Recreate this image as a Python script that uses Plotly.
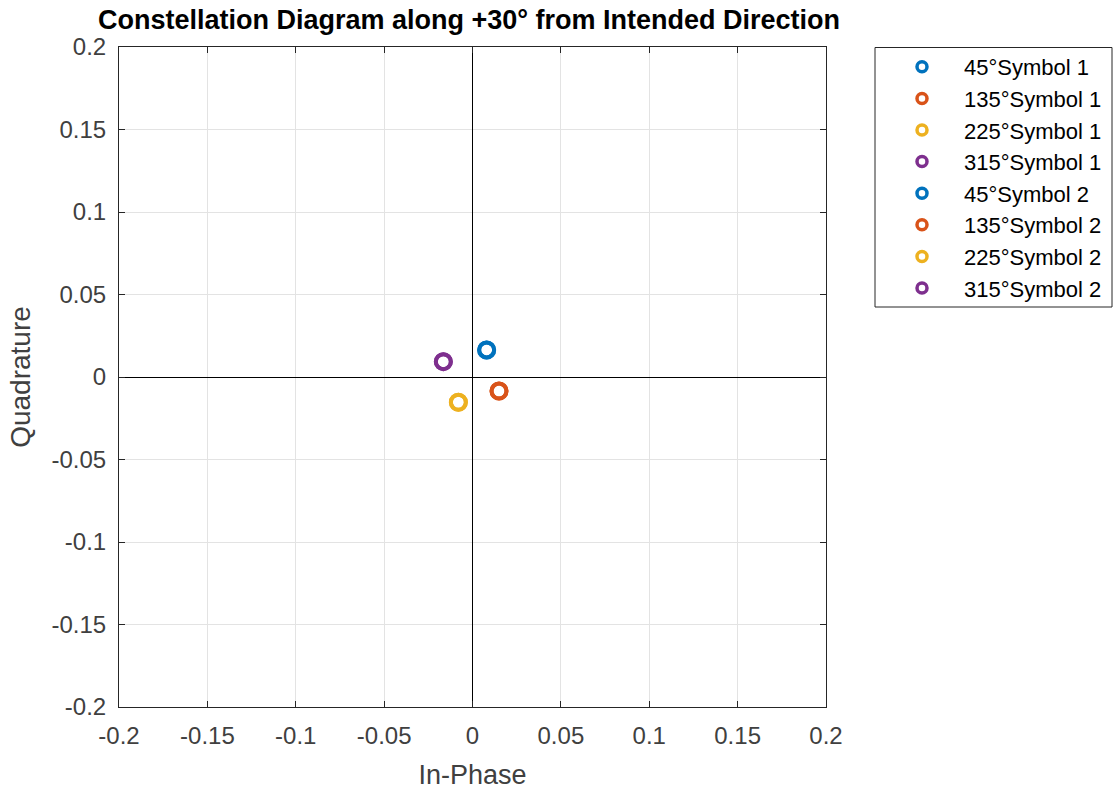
import plotly.graph_objects as go

# Received constellation points (in-phase, quadrature) for each transmitted phase
phases = ["45°", "135°", "225°", "315°"]
colors = ["#0072BD", "#D95319", "#EDB120", "#7E2F8E"]
sym1_i = [0.008, 0.015, -0.008, -0.0165]
sym1_q = [0.0164, -0.0085, -0.0153, 0.0093]
sym2_i = [0.008, 0.015, -0.008, -0.0165]
sym2_q = [0.0164, -0.0085, -0.0153, 0.0093]

tick_vals = [-0.2, -0.15, -0.1, -0.05, 0, 0.05, 0.1, 0.15, 0.2]
tick_text = ["-0.2", "-0.15", "-0.1", "-0.05", "0", "0.05", "0.1", "0.15", "0.2"]

FONT = "Liberation Sans, Arial, Helvetica, sans-serif"
AX_COLOR = "#262626"
TXT_COLOR = "#404040"

fig = go.Figure()

series = [("Symbol 1", sym1_i, sym1_q), ("Symbol 2", sym2_i, sym2_q)]
k = 0
for label, xi, yq in series:
    for p, c, x, y in zip(phases, colors, xi, yq):
        name = f"{p}{label}"
        # plotted point
        fig.add_trace(go.Scatter(
            x=[x], y=[y], mode="markers", name=name,
            legendgroup=f"g{k}", showlegend=False,
            marker=dict(symbol="circle-open", size=15, color=c,
                        line=dict(width=4, color=c)),
        ))
        # legend key with a smaller ring
        fig.add_trace(go.Scatter(
            x=[None], y=[None], mode="markers", name=name,
            legendgroup=f"g{k}", showlegend=True, hoverinfo="skip",
            marker=dict(symbol="circle-open", size=10, color=c,
                        line=dict(width=3.5, color=c)),
        ))
        k += 1

W, H = 1114, 790
L, R, T, B = 119, 826, 47, 707
pw, ph = R - L, B - T

def px_x(p):
    return (p - L) / pw

def px_y(p):
    return (B - p) / ph

axis_common = dict(
    range=[-0.2, 0.2], tickmode="array", tickvals=tick_vals, ticktext=tick_text,
    showgrid=True, gridcolor="#e3e3e3", gridwidth=1,
    zeroline=True, zerolinecolor="#000000", zerolinewidth=1,
    showline=True, linecolor=AX_COLOR, linewidth=1, mirror="ticks",
    ticks="inside", ticklen=6, tickcolor=AX_COLOR,
    tickfont=dict(family=FONT, size=24, color=TXT_COLOR),
    fixedrange=True, automargin=False,
)

fig.update_layout(
    width=W, height=H,
    margin=dict(l=L, r=W - R, t=T, b=H - B, pad=0, autoexpand=False),
    paper_bgcolor="white", plot_bgcolor="white",
    title=dict(text="Constellation Diagram along +30° from Intended Direction",
               x=469 / W, xref="container", xanchor="center",
               y=1 - 20 / H, yref="container", yanchor="middle",
               font=dict(family=FONT, size=27, color="#000000", weight="bold")),
    xaxis=dict(**axis_common, ticklabelstandoff=7,
               title=dict(text="In-Phase", standoff=26,
                          font=dict(family=FONT, size=27, color=TXT_COLOR))),
    yaxis=dict(**axis_common, ticklabelstandoff=7,
               title=dict(text="Quadrature", standoff=12,
                          font=dict(family=FONT, size=28, color=TXT_COLOR))),
    showlegend=True,
    legend=dict(
        x=880 / W, y=1 - 46 / H, xanchor="left", yanchor="top",
        xref="container", yref="container",
        bgcolor="rgba(0,0,0,0)", borderwidth=0,
        font=dict(family=FONT, size=22, color="#000000"),
        itemsizing="trace", itemwidth=74, tracegroupgap=0,
        traceorder="normal",
    ),
    shapes=[dict(type="rect", xref="paper", yref="paper",
                 x0=px_x(875), x1=px_x(1112), y0=px_y(307), y1=px_y(47.5),
                 line=dict(color=AX_COLOR, width=1), fillcolor="white",
                 layer="below")],
)

fig.write_html("out.html")
